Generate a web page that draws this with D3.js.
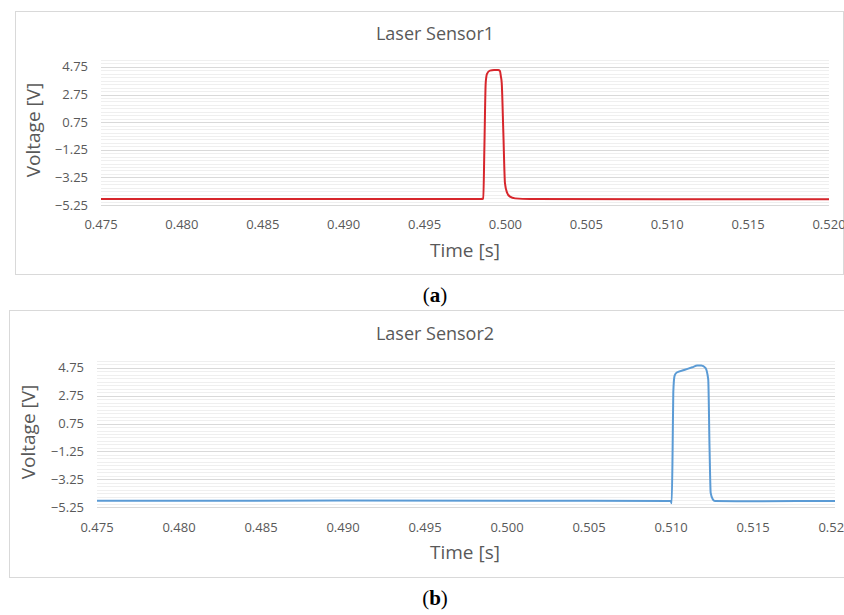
<!DOCTYPE html>
<html>
<head>
<meta charset="utf-8">
<script src="https://cdn.jsdelivr.net/npm/d3@7"></script>
<style>
	body { margin: 0; background: #fff; }
	svg { display: block; }
</style>
</head>
<body>
<div id="chartHolder"></div>
<script>
// tick labels shared by both panels
var yTicks = [-5.25, -3.25, -1.25, 0.75, 2.75, 4.75];
var xTicks = [0.475, 0.480, 0.485, 0.490, 0.495, 0.500, 0.505, 0.510, 0.515, 0.520];

// Laser Sensor1 (red)
var timeA = [0.475, 0.485, 0.4985, 0.49863, 0.49870, 0.49878, 0.49886, 0.49904, 0.49930, 0.49955,
             0.49966, 0.49972, 0.49977, 0.49987, 0.49997, 0.50010, 0.50028, 0.50060, 0.50151, 0.510, 0.520];
var voltA = [-4.82, -4.82, -4.82, -4.78, -1.00, 3.59, 4.25, 4.48, 4.52, 4.52,
             4.45, 4.05, 3.59, 0.00, -3.66, -4.35, -4.65, -4.77, -4.82, -4.83, -4.84];

// Laser Sensor2 (blue)
var timeB = [0.475, 0.490, 0.505, 0.50998, 0.51004, 0.51010, 0.51014, 0.51022, 0.51035, 0.51080,
             0.51130, 0.51160, 0.51185, 0.51210, 0.51227, 0.51235, 0.51242, 0.51255, 0.51268, 0.515, 0.520];
var voltB = [-4.80, -4.79, -4.80, -4.82, -4.98, -1.00, 3.00, 4.20, 4.42, 4.60,
             4.80, 4.92, 4.93, 4.75, 3.92, -1.00, -4.24, -4.70, -4.82, -4.83, -4.82];

var W = 844, H = 615;

var svg = d3.select("#chartHolder")
	.append("svg")
	.attr("width", W + "px")
	.attr("height", H + "px");

drawPanel({
	box: [15, 11, 828, 263],
	left: 101, right: 829, bottom: 205, top: 60,
	title: "Laser Sensor1", titleY: 40,
	tickLabelY: 229, yLabelX: 40, yLabelY: 130, xTitleY: 257,
	time: timeA, volt: voltA, color: "#d7262c",
	caption: "a", captionY: 302
});

drawPanel({
	box: [9, 310, 850, 267],
	left: 97, right: 835, bottom: 507, top: 361,
	title: "Laser Sensor2", titleY: 340,
	tickLabelY: 532, yLabelX: 35, yLabelY: 432, xTitleY: 559,
	time: timeB, volt: voltB, color: "#5b9bd5",
	caption: "b", captionY: 605
});

/***************************************************************************************/
function drawPanel(p){
	var g = svg.append("g");

	g.append("rect")
		.attr("x", p.box[0] + 0.5)
		.attr("y", p.box[1] + 0.5)
		.attr("width", p.box[2])
		.attr("height", p.box[3])
		.attr("fill", "#fff")
		.attr("stroke", "#d9d9d9");

	var x = d3.scaleLinear().domain([0.475, 0.520]).range([p.left, p.right]);
	var y = d3.scaleLinear().domain([-5.25, 5.25]).range([p.bottom, p.top]);

	// minor grid every 0.25 V
	var minor = d3.range(0, 43).map(function(i){ return -5.25 + i * 0.25; });
	g.selectAll(".minor")
		.data(minor)
		.enter().append("line")
		.attr("x1", p.left).attr("x2", p.right)
		.attr("y1", function(d){ return Math.round(y(d)) + 0.5; })
		.attr("y2", function(d){ return Math.round(y(d)) + 0.5; })
		.attr("stroke", "#efefef");

	g.selectAll(".major")
		.data(yTicks)
		.enter().append("line")
		.attr("x1", p.left).attr("x2", p.right)
		.attr("y1", function(d){ return Math.round(y(d)) + 0.5; })
		.attr("y2", function(d){ return Math.round(y(d)) + 0.5; })
		.attr("stroke", "#d9d9d9");

	g.selectAll(".ylab")
		.data(yTicks)
		.enter().append("text")
		.attr("text-anchor", "end")
		.style("font-family", "Open Sans")
		.style("font-size", 13 + "px")
		.attr("fill", "#595959")
		.attr("x", p.left - 13)
		.attr("y", function(d){ return y(d) + 4.5; })
		.text(function(d){ return d3.format(".2f")(d); });

	g.selectAll(".xlab")
		.data(xTicks)
		.enter().append("text")
		.attr("text-anchor", "middle")
		.style("font-family", "Open Sans")
		.style("font-size", 13 + "px")
		.attr("fill", "#595959")
		.attr("x", function(d){ return x(d); })
		.attr("y", p.tickLabelY)
		.text(function(d){ return d3.format(".3f")(d); });

	var pts = p.time.map(function(t, i){ return [t, p.volt[i]]; });
	var line = d3.line()
		.x(function(d){ return x(d[0]); })
		.y(function(d){ return y(d[1]); })
		.curve(d3.curveMonotoneX);

	g.append("path")
		.datum(pts)
		.attr("d", line)
		.attr("fill", "none")
		.attr("stroke", p.color)
		.attr("stroke-width", 2)
		.attr("stroke-linejoin", "round");

	g.append("text")
		.attr("text-anchor", "middle")
		.style("font-family", "Open Sans")
		.style("font-size", 18 + "px")
		.attr("fill", "#595959")
		.attr("x", 435)
		.attr("y", p.titleY)
		.text(p.title);

	g.append("text")
		.attr("text-anchor", "middle")
		.style("font-family", "Open Sans")
		.style("font-size", 19 + "px")
		.attr("fill", "#595959")
		.attr("x", 465)
		.attr("y", p.xTitleY)
		.text("Time [s]");

	g.append("text")
		.attr("text-anchor", "middle")
		.style("font-family", "Open Sans")
		.style("font-size", 19 + "px")
		.attr("fill", "#595959")
		.attr("transform", "translate(" + p.yLabelX + "," + p.yLabelY + ") rotate(-90)")
		.text("Voltage [V]");

	var cap = g.append("text")
		.attr("text-anchor", "middle")
		.style("font-family", "Liberation Serif")
		.style("font-size", 21 + "px")
		.attr("fill", "#000")
		.attr("x", 435)
		.attr("y", p.captionY);
	cap.append("tspan").text("(");
	cap.append("tspan").style("font-weight", "bold").text(p.caption);
	cap.append("tspan").text(")");
}
</script>
</body>
</html>
